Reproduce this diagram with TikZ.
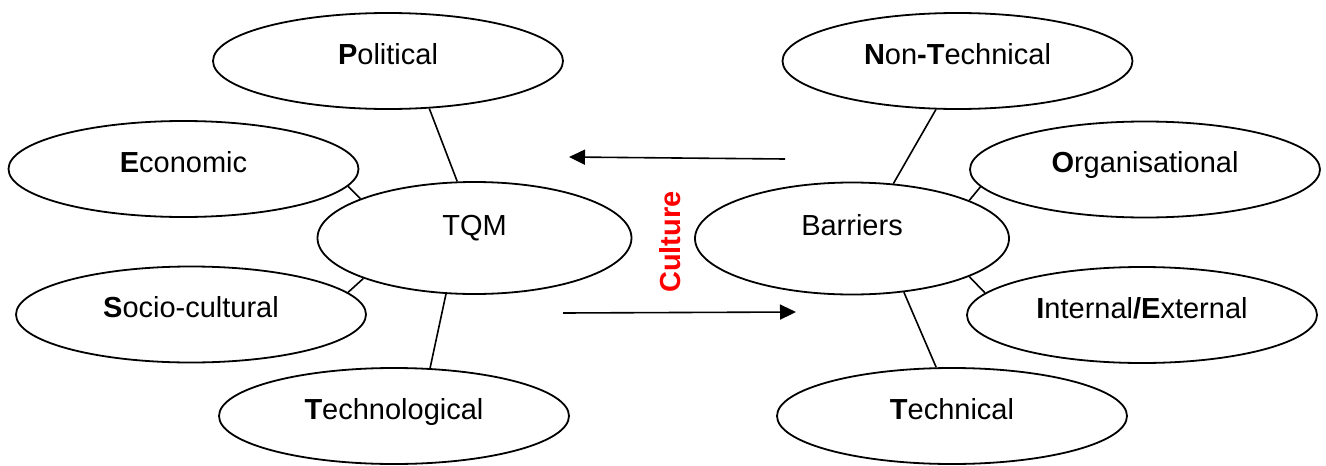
\documentclass[tikz,border=0pt]{standalone}
\usepackage{fontspec}
\setmainfont{Liberation Sans}
\usetikzlibrary{arrows.meta,shapes.geometric}
\begin{document}
\begin{tikzpicture}[x=1pt,y=-1pt,
  every node/.style={font=\fontsize{29}{34}\selectfont},
  smallell/.style={draw=black,line width=1.8pt,ellipse,inner sep=0pt,
    minimum width=350pt,minimum height=96pt,text height=21pt,text depth=14.2pt},
  bigell/.style={draw=black,line width=1.8pt,ellipse,inner sep=0pt,
    minimum width=314pt,minimum height=112pt,text height=21pt,text depth=26.2pt},
  link/.style={line width=1.6pt},
  flow/.style={line width=1.6pt,-{Triangle[length=16pt,width=15pt]}}]
\useasboundingbox (0,0) rectangle (1326,466);
% centre ellipses
\node[bigell] (tqm) at (474.5,238) {TQM};
\node[bigell] (bar) at (852,238.5) {Barriers};
% PEST ellipses
\node[smallell] (pol) at (388,61) {\textbf{P}olitical};
\node[smallell] (eco) at (183.5,169) {\textbf{E}conomic};
\node[smallell] (soc) at (191,314.5) {\textbf{S}ocio-cultural};
\node[smallell] (tec) at (394,416) {\textbf{T}echnological};
% barrier ellipses
\node[smallell] (nt) at (957.5,61) {\textbf{N}on\textbf{-T}echnical};
\node[smallell] (org) at (1145,169.5) {\textbf{O}rganisational};
\node[smallell] (ie) at (1142,315) {\textbf{I}nternal\textbf{/E}xternal};
\node[smallell] (tch) at (952,416) {\textbf{T}echnical};
% connectors
\draw[link] (pol.-49.5) -- (tqm.107.4);
\draw[link] (eco.-6.8) -- (tqm.161.3);
\draw[link] (soc.8.3) -- (tqm.-160.3);
\draw[link] (tec.53.3) -- (tqm.-117);
\draw[link] (nt.-114.1) -- (bar.53);
\draw[link] (org.186.5) -- (bar.18.5);
\draw[link] (ie.172.1) -- (bar.-18.7);
\draw[link] (tch.108.4) -- (bar.-46.9);
% arrows
\coordinate (a1s) at (785,159);
\coordinate (a1e) at (569,157);
\coordinate (a2s) at (563,313);
\coordinate (a2e) at (796,312);
\draw[flow] (a1s) -- (a1e);
\draw[flow] (a2s) -- (a2e);
% culture
\node[rotate=90,text=red,font=\fontsize{29}{34}\selectfont\bfseries] (cul) at (670,242) {Culture};
\end{tikzpicture}
\end{document}
